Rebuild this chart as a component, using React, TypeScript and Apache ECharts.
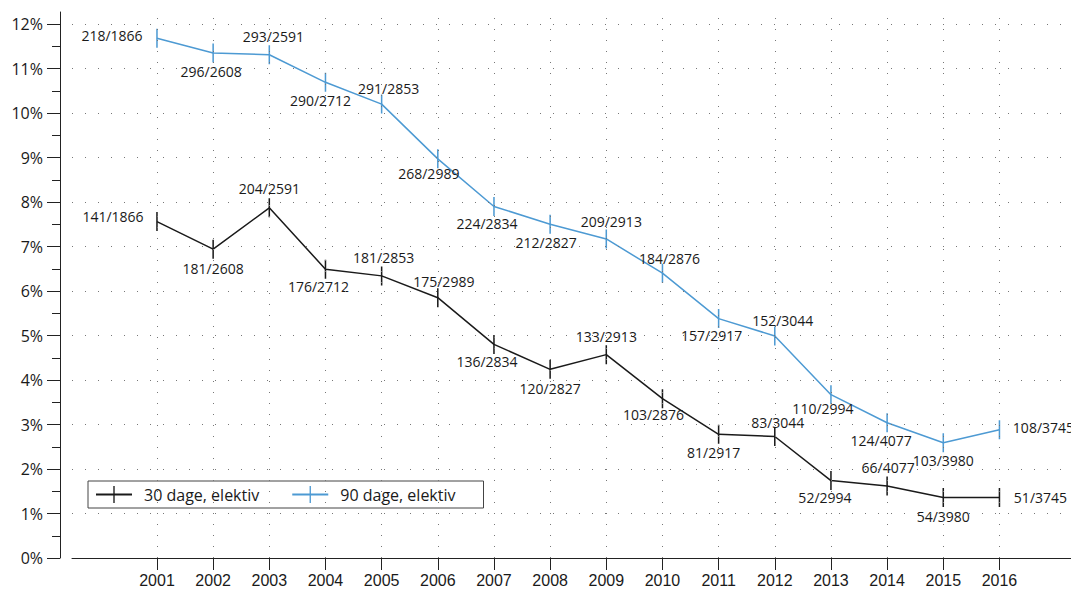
import React, { useEffect, useRef } from "react";
import * as echarts from "echarts";

// ---- data ----
const years = [2001, 2002, 2003, 2004, 2005, 2006, 2007, 2008, 2009, 2010, 2011, 2012, 2013, 2014, 2015, 2016];
const patients = [1866, 2608, 2591, 2712, 2853, 2989, 2834, 2827, 2913, 2876, 2917, 3044, 2994, 4077, 3980, 3745];
const deaths30 = [141, 181, 204, 176, 181, 175, 136, 120, 133, 103, 81, 83, 52, 66, 54, 51];
const deaths90 = [218, 296, 293, 290, 291, 268, 224, 212, 209, 184, 157, 152, 110, 124, 103, 108];
const pct30 = [7.56, 6.94, 7.87, 6.49, 6.34, 5.85, 4.80, 4.24, 4.57, 3.58, 2.78, 2.73, 1.74, 1.62, 1.36, 1.36];
const pct90 = [11.68, 11.35, 11.31, 10.69, 10.20, 8.97, 7.90, 7.50, 7.17, 6.40, 5.38, 4.99, 3.67, 3.04, 2.59, 2.88];
const yTicks = [0, 1, 2, 3, 4, 5, 6, 7, 8, 9, 10, 11, 12];
const yMinorTicks = [0.5, 1.5, 2.5, 3.5, 4.5, 5.5, 6.5, 7.5, 8.5, 9.5, 10.5, 11.5];
const seriesNames = ["30 dage, elektiv", "90 dage, elektiv"];

// ---- label placement (style, offsets in px from the point) ----
const labelOffset30: [number, number][] = [
  [-44, -5], [0, 19], [0, -19], [-7, 17], [2, -18], [6, -16], [-7, 17], [0, 19],
  [0, -18], [-9, 16], [-5, 18], [3, -14], [-6, 17], [1, -18], [0, 19], [41, 0],
];
const labelOffset90: [number, number][] = [
  [-45, -3], [-2, 19], [4, -18], [-5, 18], [7, -16], [-9, 15], [-7, 17], [-4, 18],
  [5, -17], [7, -15], [-7, 17], [8, -15], [-8, 14], [-6, 18], [0, 18], [44, -2],
];

const FONT = "'Open Sans', 'Noto Sans', sans-serif";
const AXIS_FONT = "'Liberation Sans', 'Open Sans', sans-serif";
const BLACK = "#1a1a1a";
const BLUE = "#4d9ad3";
const GRID = "#777";
const BAR_SYMBOL = "path://M0,0L0,0ZM20,20L20,20ZM9.2,0L10.8,0L10.8,20L9.2,20Z";

function buildSeries(name: string, pct: number[], deaths: number[], offsets: [number, number][], color: string) {
  return {
    name,
    type: "line",
    symbol: BAR_SYMBOL,
    symbolSize: 19,
    color,
    lineStyle: { color, width: 1.5 },
    itemStyle: { color, borderWidth: 0 },
    data: years.map((y, i) => ({
      value: [y, pct[i]],
      label: { offset: offsets[i] },
    })),
    label: {
      show: true,
      position: "inside",
      align: "center",
      verticalAlign: "middle",
      fontFamily: FONT,
      fontSize: 14,
      lineHeight: 14,
      color: "#1a1a1a",
      formatter: (p: any) => `${deaths[p.dataIndex]}/${patients[p.dataIndex]}`,
    },
    emphasis: { disabled: true },
    z: 3,
  };
}

export default function App() {
  const ref = useRef<HTMLDivElement>(null);
  useEffect(() => {
    if (!ref.current) return;
    const chart = echarts.init(ref.current, undefined, { renderer: "svg" });
    const gridLines = [
      ...years.map((y) => ({ xAxis: y, lineStyle: { color: GRID, width: 1, type: [1, 10] } })),
      ...yTicks.slice(1).map((v) => ({ yAxis: v, lineStyle: { color: GRID, width: 1, type: [1, 12] } })),
    ];
    chart.setOption({
      animation: false,
      backgroundColor: "#ffffff",
      textStyle: { fontFamily: FONT },
      grid: { left: 72, right: 0, top: 12, bottom: 31, containLabel: false },
      legend: {
        left: 88,
        top: 481,
        orient: "horizontal",
        itemWidth: 36,
        itemHeight: 21,
        itemGap: 32,
        padding: [3, 28, 3, 7],
        borderColor: "#444",
        borderWidth: 1,
        borderRadius: 0,
        textStyle: { fontFamily: FONT, fontSize: 16, lineHeight: 21, color: "#1a1a1a", padding: [0, 0, 0, 7] },
        data: seriesNames,
      },
      xAxis: {
        type: "value",
        min: 1999.487,
        max: 2017.274,
        axisLine: { show: true, onZero: true, lineStyle: { color: "#222", width: 1 } },
        axisTick: { show: true, customValues: years, length: 12, lineStyle: { color: "#222" } },
        axisLabel: {
          customValues: years,
          formatter: (v: number) => String(Math.round(v)),
          fontFamily: AXIS_FONT,
          fontSize: 16,
          lineHeight: 16,
          color: "#1a1a1a",
          margin: 14,
        },
        splitLine: { show: false },
      },
      yAxis: [
        {
          type: "value",
          min: 0,
          max: 12.27,
          offset: 12,
          axisLine: { show: true, lineStyle: { color: "#222", width: 1 } },
          axisTick: { show: true, customValues: yTicks, length: 13, lineStyle: { color: "#222" } },
          axisLabel: {
            customValues: yTicks,
            formatter: (v: number) => `${Math.round(v)}%`,
            fontFamily: FONT,
            fontSize: 16,
            color: "#1a1a1a",
            margin: 17,
          },
          splitLine: { show: false },
        },
        {
          type: "value",
          min: 0,
          max: 12.27,
          offset: 12,
          position: "left",
          axisLine: { show: false },
          axisTick: { show: true, customValues: yMinorTicks, length: 8, lineStyle: { color: "#222" } },
          axisLabel: { show: false },
          splitLine: { show: false },
        },
      ],
      series: [
        {
          name: "grid",
          type: "line",
          data: [],
          z: 1,
          silent: true,
          markLine: {
            silent: true,
            symbol: "none",
            label: { show: false },
            emphasis: { disabled: true },
            animation: false,
            data: gridLines,
          },
        },
        buildSeries(seriesNames[0], pct30, deaths30, labelOffset30, BLACK),
        buildSeries(seriesNames[1], pct90, deaths90, labelOffset90, BLUE),
      ],
    });
    return () => chart.dispose();
  }, []);
  return <div ref={ref} style={{ width: 1071, height: 589, position: "absolute", left: 0, top: 0 }} />;
}
